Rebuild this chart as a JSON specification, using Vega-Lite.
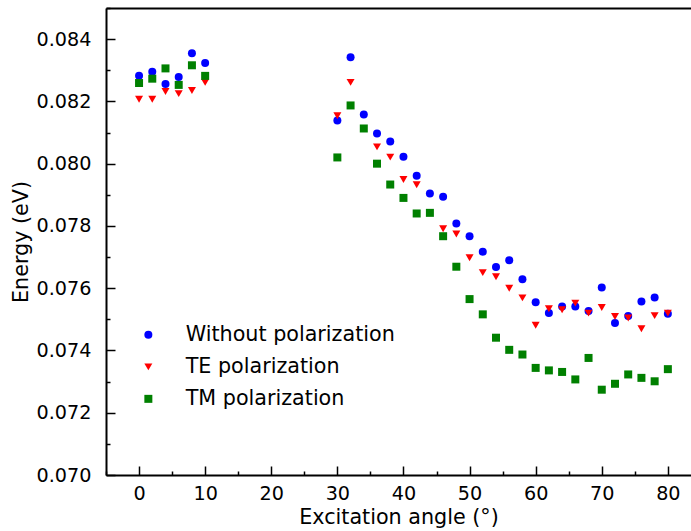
{
  "$schema": "https://vega.github.io/schema/vega-lite/v6.json",
  "width": 585,
  "height": 467,
  "autosize": {"type": "none"},
  "padding": {"left": 106, "top": 8, "right": 0, "bottom": 56},
  "background": "white",
  "config": {
    "view": {"stroke": null},
    "font": "DejaVu Sans",
    "axis": {
      "domainColor": "black", "domainWidth": 2, "tickColor": "black", "tickWidth": 1.5,
      "labelColor": "black", "titleColor": "black", "grid": false,
      "labelFont": "DejaVu Sans", "titleFont": "DejaVu Sans", "titleFontWeight": "normal"
    }
  },
  "data": {"values": [
    {"a":0,"e":0.08282,"s":"Without polarization"},
    {"a":2,"e":0.08295,"s":"Without polarization"},
    {"a":4,"e":0.08256,"s":"Without polarization"},
    {"a":6,"e":0.08278,"s":"Without polarization"},
    {"a":8,"e":0.08355,"s":"Without polarization"},
    {"a":10,"e":0.08323,"s":"Without polarization"},
    {"a":30,"e":0.08139,"s":"Without polarization"},
    {"a":32,"e":0.08342,"s":"Without polarization"},
    {"a":34,"e":0.08158,"s":"Without polarization"},
    {"a":36,"e":0.08097,"s":"Without polarization"},
    {"a":38,"e":0.08071,"s":"Without polarization"},
    {"a":40,"e":0.08022,"s":"Without polarization"},
    {"a":42,"e":0.07961,"s":"Without polarization"},
    {"a":44,"e":0.07904,"s":"Without polarization"},
    {"a":46,"e":0.07894,"s":"Without polarization"},
    {"a":48,"e":0.07808,"s":"Without polarization"},
    {"a":50,"e":0.07767,"s":"Without polarization"},
    {"a":52,"e":0.07717,"s":"Without polarization"},
    {"a":54,"e":0.07668,"s":"Without polarization"},
    {"a":56,"e":0.07690,"s":"Without polarization"},
    {"a":58,"e":0.07629,"s":"Without polarization"},
    {"a":60,"e":0.07555,"s":"Without polarization"},
    {"a":62,"e":0.07520,"s":"Without polarization"},
    {"a":64,"e":0.07541,"s":"Without polarization"},
    {"a":66,"e":0.07541,"s":"Without polarization"},
    {"a":68,"e":0.07527,"s":"Without polarization"},
    {"a":70,"e":0.07602,"s":"Without polarization"},
    {"a":72,"e":0.07488,"s":"Without polarization"},
    {"a":74,"e":0.07511,"s":"Without polarization"},
    {"a":76,"e":0.07557,"s":"Without polarization"},
    {"a":78,"e":0.07570,"s":"Without polarization"},
    {"a":80,"e":0.07518,"s":"Without polarization"},
    {"a":0,"e":0.08207,"s":"TE polarization"},
    {"a":2,"e":0.08207,"s":"TE polarization"},
    {"a":4,"e":0.08232,"s":"TE polarization"},
    {"a":6,"e":0.08225,"s":"TE polarization"},
    {"a":8,"e":0.08235,"s":"TE polarization"},
    {"a":10,"e":0.08261,"s":"TE polarization"},
    {"a":30,"e":0.08154,"s":"TE polarization"},
    {"a":32,"e":0.08261,"s":"TE polarization"},
    {"a":36,"e":0.08054,"s":"TE polarization"},
    {"a":38,"e":0.08021,"s":"TE polarization"},
    {"a":40,"e":0.07949,"s":"TE polarization"},
    {"a":42,"e":0.07932,"s":"TE polarization"},
    {"a":46,"e":0.07791,"s":"TE polarization"},
    {"a":48,"e":0.07774,"s":"TE polarization"},
    {"a":50,"e":0.07698,"s":"TE polarization"},
    {"a":52,"e":0.07650,"s":"TE polarization"},
    {"a":54,"e":0.07637,"s":"TE polarization"},
    {"a":56,"e":0.07600,"s":"TE polarization"},
    {"a":58,"e":0.07569,"s":"TE polarization"},
    {"a":60,"e":0.07481,"s":"TE polarization"},
    {"a":62,"e":0.07534,"s":"TE polarization"},
    {"a":64,"e":0.07531,"s":"TE polarization"},
    {"a":66,"e":0.07552,"s":"TE polarization"},
    {"a":68,"e":0.07520,"s":"TE polarization"},
    {"a":70,"e":0.07538,"s":"TE polarization"},
    {"a":72,"e":0.07509,"s":"TE polarization"},
    {"a":74,"e":0.07504,"s":"TE polarization"},
    {"a":76,"e":0.07470,"s":"TE polarization"},
    {"a":78,"e":0.07512,"s":"TE polarization"},
    {"a":80,"e":0.07520,"s":"TE polarization"},
    {"a":0,"e":0.08259,"s":"TM polarization"},
    {"a":2,"e":0.08273,"s":"TM polarization"},
    {"a":4,"e":0.08306,"s":"TM polarization"},
    {"a":6,"e":0.08253,"s":"TM polarization"},
    {"a":8,"e":0.08316,"s":"TM polarization"},
    {"a":10,"e":0.08282,"s":"TM polarization"},
    {"a":30,"e":0.08020,"s":"TM polarization"},
    {"a":32,"e":0.08187,"s":"TM polarization"},
    {"a":34,"e":0.08113,"s":"TM polarization"},
    {"a":36,"e":0.08000,"s":"TM polarization"},
    {"a":38,"e":0.07933,"s":"TM polarization"},
    {"a":40,"e":0.07890,"s":"TM polarization"},
    {"a":42,"e":0.07840,"s":"TM polarization"},
    {"a":44,"e":0.07842,"s":"TM polarization"},
    {"a":46,"e":0.07767,"s":"TM polarization"},
    {"a":48,"e":0.07669,"s":"TM polarization"},
    {"a":50,"e":0.07565,"s":"TM polarization"},
    {"a":52,"e":0.07516,"s":"TM polarization"},
    {"a":54,"e":0.07441,"s":"TM polarization"},
    {"a":56,"e":0.07402,"s":"TM polarization"},
    {"a":58,"e":0.07387,"s":"TM polarization"},
    {"a":60,"e":0.07344,"s":"TM polarization"},
    {"a":62,"e":0.07336,"s":"TM polarization"},
    {"a":64,"e":0.07331,"s":"TM polarization"},
    {"a":66,"e":0.07307,"s":"TM polarization"},
    {"a":68,"e":0.07376,"s":"TM polarization"},
    {"a":70,"e":0.07274,"s":"TM polarization"},
    {"a":72,"e":0.07293,"s":"TM polarization"},
    {"a":74,"e":0.07323,"s":"TM polarization"},
    {"a":76,"e":0.07312,"s":"TM polarization"},
    {"a":78,"e":0.07301,"s":"TM polarization"},
    {"a":80,"e":0.07340,"s":"TM polarization"}
  ]},
  "layer": [
    {
      "mark": {"type": "point", "opacity": 0},
      "encoding": {
        "x": {"field": "a", "type": "quantitative", "scale": {"domain": [-5, 83.5], "nice": false, "zero": false},
          "axis": {"orient": "bottom", "values": [-5,5,15,25,35,45,55,65,75], "tickSize": -4, "labels": false, "title": null, "domain": false}},
        "y": {"field": "e", "type": "quantitative", "scale": {"domain": [0.070, 0.085], "nice": false, "zero": false},
          "axis": {"orient": "left", "values": [0.071,0.073,0.075,0.077,0.079,0.081,0.083,0.085], "tickSize": -4, "labels": false, "title": null, "domain": false}}
      }
    },
    {
      "mark": {"type": "point", "opacity": 0},
      "encoding": {
        "x": {"field": "a", "type": "quantitative", "axis": {"orient": "top", "ticks": false, "labels": false, "title": null}},
        "y": {"field": "e", "type": "quantitative", "axis": null}
      }
    },
    {
      "mark": {"type": "point", "filled": true, "opacity": 1, "size": 64},
      "encoding": {
        "x": {"field": "a", "type": "quantitative",
          "axis": {"orient": "bottom", "values": [0,10,20,30,40,50,60,70,80], "tickSize": -9, "labelPadding": 18,
            "labelFontSize": 19.2, "title": "Excitation angle (°)", "titleFontSize": 20.7, "titlePadding": 4}},
        "y": {"field": "e", "type": "quantitative",
          "axis": {"orient": "left", "values": [0.070,0.072,0.074,0.076,0.078,0.080,0.082,0.084], "format": ".3f",
            "tickSize": -9, "labelPadding": 24, "labelFontSize": 19.2, "title": "Energy (eV)", "titleFontSize": 20.7, "titlePadding": 5}},
        "color": {"field": "s", "type": "nominal",
          "scale": {"domain": ["Without polarization", "TE polarization", "TM polarization"], "range": ["#0000ff", "#ff0000", "#008000"]},
          "legend": {"orient": "none", "legendX": 32, "legendY": 316.5, "title": null, "labelFontSize": 20.7, "labelColor": "black",
            "labelLimit": 0, "symbolSize": 64, "rowPadding": 10, "labelOffset": 27, "padding": 0}},
        "shape": {"field": "s", "type": "nominal",
          "scale": {"domain": ["Without polarization", "TE polarization", "TM polarization"], "range": ["circle", "triangle-down", "square"]}}
      }
    }
  ],
  "resolve": {"axis": {"x": "independent", "y": "independent"}}
}
